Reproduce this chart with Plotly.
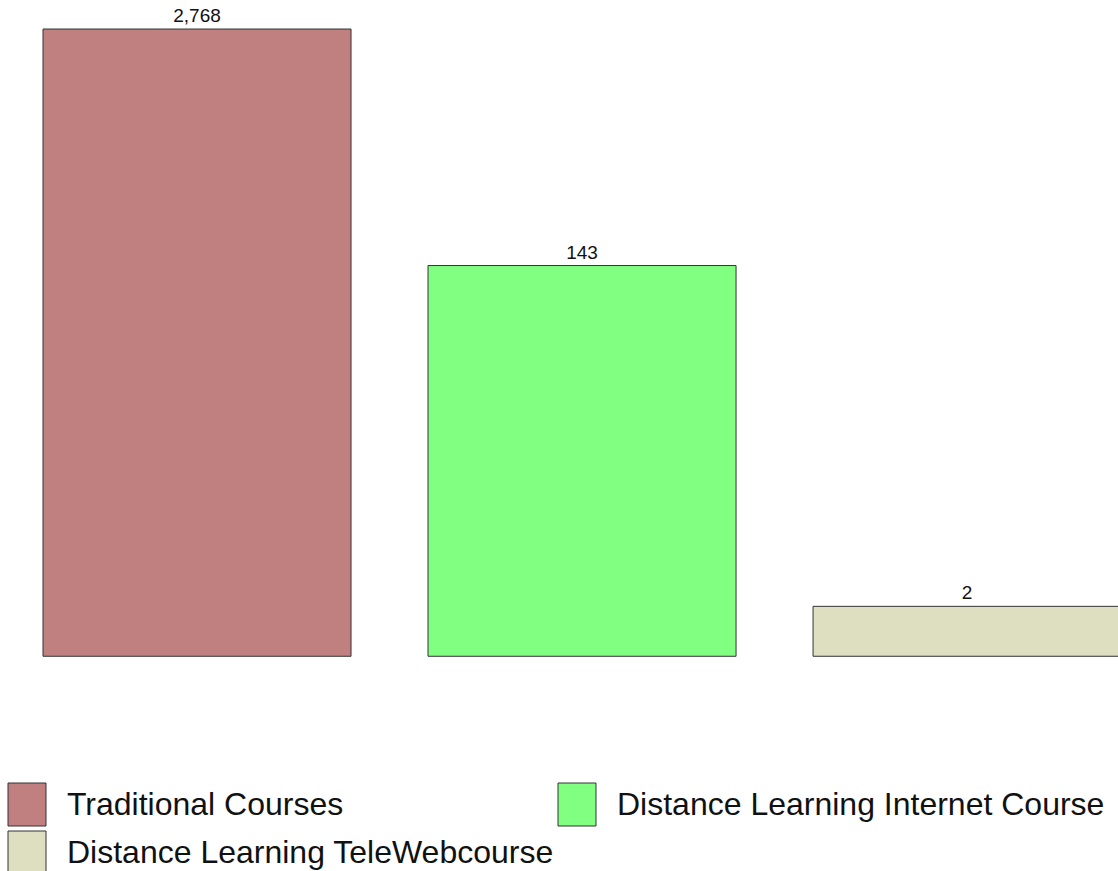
import plotly.graph_objects as go

categories = ["Traditional Courses", "Distance Learning Internet Course", "Distance Learning TeleWebcourse"]
values = [2768, 143, 2]
colors = ["#C08080", "#80FF80", "#DEDEC0"]

W, H = 1118, 871
M_L, M_R, M_T, M_B = 0, 0, 10, 213
plot_w = W - M_L - M_R
plot_h = H - M_T - M_B


def px_x(p):
    return (p - M_L) / plot_w


def px_y(p):
    return (H - M_B - p) / plot_h


fig = go.Figure()
for i, (cat, val, col) in enumerate(zip(categories, values, colors)):
    fig.add_trace(go.Bar(
        x=[i], y=[val - 1.07], base=1.07, name=cat,
        marker=dict(color=col, line=dict(color="#333333", width=1)),
        text=[f"{val:,}"], textposition="outside",
        textfont=dict(family="Liberation Sans, Arial", size=19, color="#111111"),
        cliponaxis=False, showlegend=False,
    ))

# manual legend (large swatches)
legend_pos = [(8, 783, 67), (558, 783, 617), (8, 831, 67)]
for (bx, by, tx), cat, col in zip(legend_pos, categories, colors):
    fig.add_shape(type="rect", xref="paper", yref="paper",
                  x0=px_x(bx), x1=px_x(bx + 38), y0=px_y(by + 43), y1=px_y(by),
                  fillcolor=col, line=dict(color="#333333", width=1))
    fig.add_annotation(xref="paper", yref="paper", x=px_x(tx - 2), y=px_y(by + 21),
                       text=cat, showarrow=False, xanchor="left", yanchor="middle",
                       font=dict(family="Liberation Sans, Arial", size=32, color="#111111"))

fig.update_layout(
    width=W, height=H,
    margin=dict(l=M_L, r=M_R, t=M_T, b=M_B),
    paper_bgcolor="white", plot_bgcolor="white",
    bargap=0.2,
    xaxis=dict(range=[-0.5117, 2.392], visible=False),
    yaxis=dict(type="log", range=[0.02, 3.5457], visible=False),
    showlegend=False,
)
fig.write_html("out.html", config={"displayModeBar": False})

with open("out.html", "r", encoding="utf-8") as f:
    html = f.read()
html = html.replace("<head>", "<head><style>html,body{margin:0;padding:0;overflow:hidden;}</style>", 1)
with open("out.html", "w", encoding="utf-8") as f:
    f.write(html)
